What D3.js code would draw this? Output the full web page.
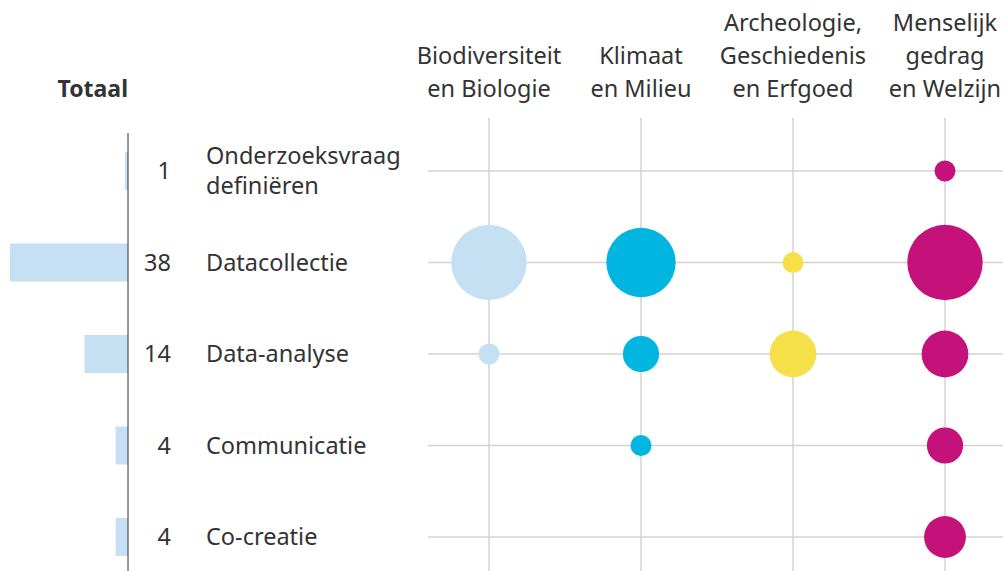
<!DOCTYPE html>
<html>
<head>
<meta charset="utf-8">
<script src="https://cdn.jsdelivr.net/npm/d3@7"></script>
<style>
  body { margin: 0; background: #fff; }
  svg { display: block; font-family: "Noto Sans", sans-serif; }
</style>
</head>
<body>
<div id="chart"></div>
<script>
// rows (phases) and totals
var phases = [["Onderzoeksvraag", "definiëren"], ["Datacollectie"], ["Data-analyse"], ["Communicatie"], ["Co-creatie"]];
var totals = [1, 38, 14, 4, 4];

// columns (domains)
var domains = [["Biodiversiteit", "en Biologie"], ["Klimaat", "en Milieu"], ["Archeologie,", "Geschiedenis", "en Erfgoed"], ["Menselijk", "gedrag", "en Welzijn"]];
var domainColors = ["#c5e0f3", "#00b6e1", "#f6e04a", "#c4127a"];

// counts per domain, one value per phase
var biodiversiteit = [0, 13, 1, 0, 0];
var klimaat = [0, 11, 3, 1, 0];
var archeologie = [0, 1, 5, 0, 0];
var menselijk = [1, 13, 5, 3, 4];
var seriesValues = [biodiversiteit, klimaat, archeologie, menselijk];

function init(){
    var w = 1003;
    var h = 571;
    var axisX = 128;
    var fs = 23.5;

    var svg = d3.select("#chart")
        .append("svg")
        .attr("width", w)
        .attr("height", h);

    var y = d3.scalePoint()
        .domain(d3.range(phases.length))
        .range([171, 537]);

    var x = d3.scalePoint()
        .domain(d3.range(domains.length))
        .range([489, 945]);

    var barScale = d3.scaleLinear()
        .domain([0, d3.max(totals)])
        .range([0, 118]);

    var r = d3.scaleSqrt()
        .domain([0, 13])
        .range([0, 37.7]);

    // grid
    svg.append("g").selectAll("line")
        .data(d3.range(phases.length))
        .enter()
        .append("line")
        .attr("x1", 428).attr("x2", w)
        .attr("y1", function(d) { return y(d); })
        .attr("y2", function(d) { return y(d); })
        .attr("stroke", "#d3d3d3")
        .attr("stroke-width", 1.5);

    svg.append("g").selectAll("line")
        .data(d3.range(domains.length))
        .enter()
        .append("line")
        .attr("x1", function(d) { return x(d); })
        .attr("x2", function(d) { return x(d); })
        .attr("y1", 118).attr("y2", h)
        .attr("stroke", "#d3d3d3")
        .attr("stroke-width", 1.5);

    // total bars
    svg.append("g").selectAll("rect")
        .data(totals)
        .enter()
        .append("rect")
        .attr("x", function(d) { return axisX - barScale(d); })
        .attr("y", function(d, i) { return y(i) - 19; })
        .attr("width", function(d) { return barScale(d); })
        .attr("height", 38)
        .attr("fill", "#c5e0f3");

    svg.append("line")
        .attr("x1", axisX).attr("x2", axisX)
        .attr("y1", 133).attr("y2", h)
        .attr("stroke", "#333")
        .attr("stroke-width", 1);

    svg.append("text")
        .attr("x", axisX)
        .attr("y", 97)
        .attr("text-anchor", "end")
        .attr("font-weight", "bold")
        .attr("font-size", 23)
        .attr("fill", "#333")
        .text("Totaal");

    // numbers
    svg.append("g").selectAll("text")
        .data(totals)
        .enter()
        .append("text")
        .attr("x", 171)
        .attr("y", function(d, i) { return y(i) + 8; })
        .attr("text-anchor", "end")
        .attr("font-size", fs)
        .attr("fill", "#333")
        .text(function(d) { return d; });

    // phase labels
    var labels = svg.append("g").selectAll("text")
        .data(phases)
        .enter()
        .append("text")
        .attr("x", 206)
        .attr("y", function(d, i) { return y(i) + 8 - (d.length - 1) * 15; })
        .attr("font-size", fs)
        .attr("fill", "#333");
    labels.selectAll("tspan")
        .data(function(d) { return d; })
        .enter()
        .append("tspan")
        .attr("x", 206)
        .attr("dy", function(d, i) { return i ? 30 : 0; })
        .text(function(d) { return d; });

    // domain headers
    var heads = svg.append("g").selectAll("text")
        .data(domains)
        .enter()
        .append("text")
        .attr("x", function(d, i) { return x(i); })
        .attr("y", function(d) { return 97 - (d.length - 1) * 33; })
        .attr("text-anchor", "middle")
        .attr("font-size", fs)
        .attr("fill", "#333");
    heads.selectAll("tspan")
        .data(function(d, i) { return d.map(function(t) { return {t: t, i: i}; }); })
        .enter()
        .append("tspan")
        .attr("x", function(d) { return x(d.i); })
        .attr("dy", function(d, j) { return j ? 33 : 0; })
        .text(function(d) { return d.t; });

    // bubbles
    seriesValues.forEach(function(vals, c) {
        svg.append("g").selectAll("circle")
            .data(vals.map(function(v, i) { return {v: v, i: i}; }).filter(function(d) { return d.v > 0; }))
            .enter()
            .append("circle")
            .attr("cx", x(c))
            .attr("cy", function(d) { return y(d.i); })
            .attr("r", function(d) { return r(d.v); })
            .attr("fill", domainColors[c]);
    });
}
window.onload = init;
</script>
</body>
</html>
